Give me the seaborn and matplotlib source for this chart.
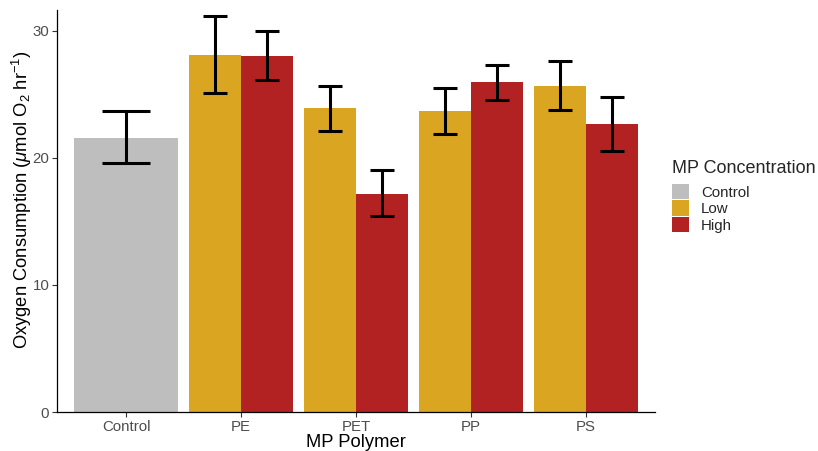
import matplotlib
matplotlib.use("Agg")
import matplotlib.pyplot as plt
import seaborn as sns
import pandas as pd
import numpy as np
from matplotlib.patches import Patch

polymers = ["Control", "PE", "PET", "PP", "PS"]
conc_levels = ["Control", "Low", "High"]
colors = {"Control": "#BEBEBE", "Low": "#DAA520", "High": "#B22222"}

ctrl_mean = [21.6]
ctrl_lo = [19.6]
ctrl_hi = [23.7]

trt_polymer = ["PE", "PE", "PET", "PET", "PP", "PP", "PS", "PS"]
trt_conc = ["Low", "High", "Low", "High", "Low", "High", "Low", "High"]
trt_mean = [28.1, 28.0, 23.9, 17.2, 23.7, 26.0, 25.7, 22.7]
trt_lo = [25.1, 26.1, 22.1, 15.4, 21.9, 24.6, 23.8, 20.55]
trt_hi = [31.2, 30.0, 25.7, 19.05, 25.5, 27.3, 27.6, 24.8]

sns.set_style("white")
plt.rcParams["font.family"] = ["Liberation Sans", "DejaVu Sans"]
plt.rcParams["mathtext.fontset"] = "custom"
plt.rcParams["mathtext.rm"] = "Liberation Sans"
plt.rcParams["mathtext.it"] = "Liberation Sans:italic"

fig = plt.figure(figsize=(8.18, 4.51), dpi=100)
ax = fig.add_axes([57/818, 1-412/451, (655-57)/818, (412-10)/451])

ctrl_df = pd.DataFrame({"polymer": ["Control"], "conc": ["Control"], "mean": ctrl_mean})
trt_df = pd.DataFrame({"polymer": trt_polymer, "conc": trt_conc, "mean": trt_mean})

sns.barplot(data=trt_df, x="polymer", y="mean", hue="conc", order=polymers,
            hue_order=["Low", "High"], palette=colors, width=0.9, gap=0,
            dodge=True, saturation=1, errorbar=None, ax=ax, legend=False,
            linewidth=0, edgecolor="none")
sns.barplot(data=ctrl_df, x="polymer", y="mean", order=polymers,
            color=colors["Control"], width=0.9, saturation=1, errorbar=None, ax=ax,
            linewidth=0, edgecolor="none")

px = lambda p: polymers.index(p)
ax.errorbar([px("Control")], ctrl_mean,
            yerr=[np.array(ctrl_mean) - np.array(ctrl_lo), np.array(ctrl_hi) - np.array(ctrl_mean)],
            fmt="none", ecolor="black", elinewidth=2.2, capsize=17, capthick=2.2, zorder=5)
offs = {"Low": -0.225, "High": 0.225}
tx = [px(p) + offs[c] for p, c in zip(trt_polymer, trt_conc)]
tm = np.array(trt_mean)
ax.errorbar(tx, tm, yerr=[tm - np.array(trt_lo), np.array(trt_hi) - tm],
            fmt="none", ecolor="black", elinewidth=2.2, capsize=8.3, capthick=2.2, zorder=5)

ax.set_xlim(-0.6, 4.6)
ax.set_ylim(0, 31.65)
ax.set_yticks([0, 10, 20, 30])
ax.set_xlabel("MP Polymer", fontsize=13.2, color="black", labelpad=0)
ax.set_ylabel("Oxygen Consumption ($\\mu$mol O$_2$ hr$^{-1}$)", fontsize=13.2, color="black")
ax.yaxis.set_label_coords(-0.039, 0.527)
ax.tick_params(axis="both", which="both", length=3.5, width=0.8, color="#333333",
               labelsize=10.8, labelcolor="#4D4D4D", left=True, bottom=True, pad=2)
for s in ["top", "right"]:
    ax.spines[s].set_visible(False)
for s in ["left", "bottom"]:
    ax.spines[s].set_color("black")
    ax.spines[s].set_linewidth(0.9)

handles = [Patch(facecolor=colors[c], edgecolor="none", label=c) for c in conc_levels]
leg = fig.legend(handles=handles, title="MP Concentration", loc="upper left",
                 bbox_to_anchor=(666/818, 1-154/451), frameon=False, fontsize=10.8,
                 title_fontsize=13, handlelength=1.15, handleheight=1.2,
                 handletextpad=0.8, labelspacing=0.05, borderaxespad=0)
leg._legend_box.align = "left"
leg._legend_box.sep = 5

fig.savefig("out.png", dpi=100)
